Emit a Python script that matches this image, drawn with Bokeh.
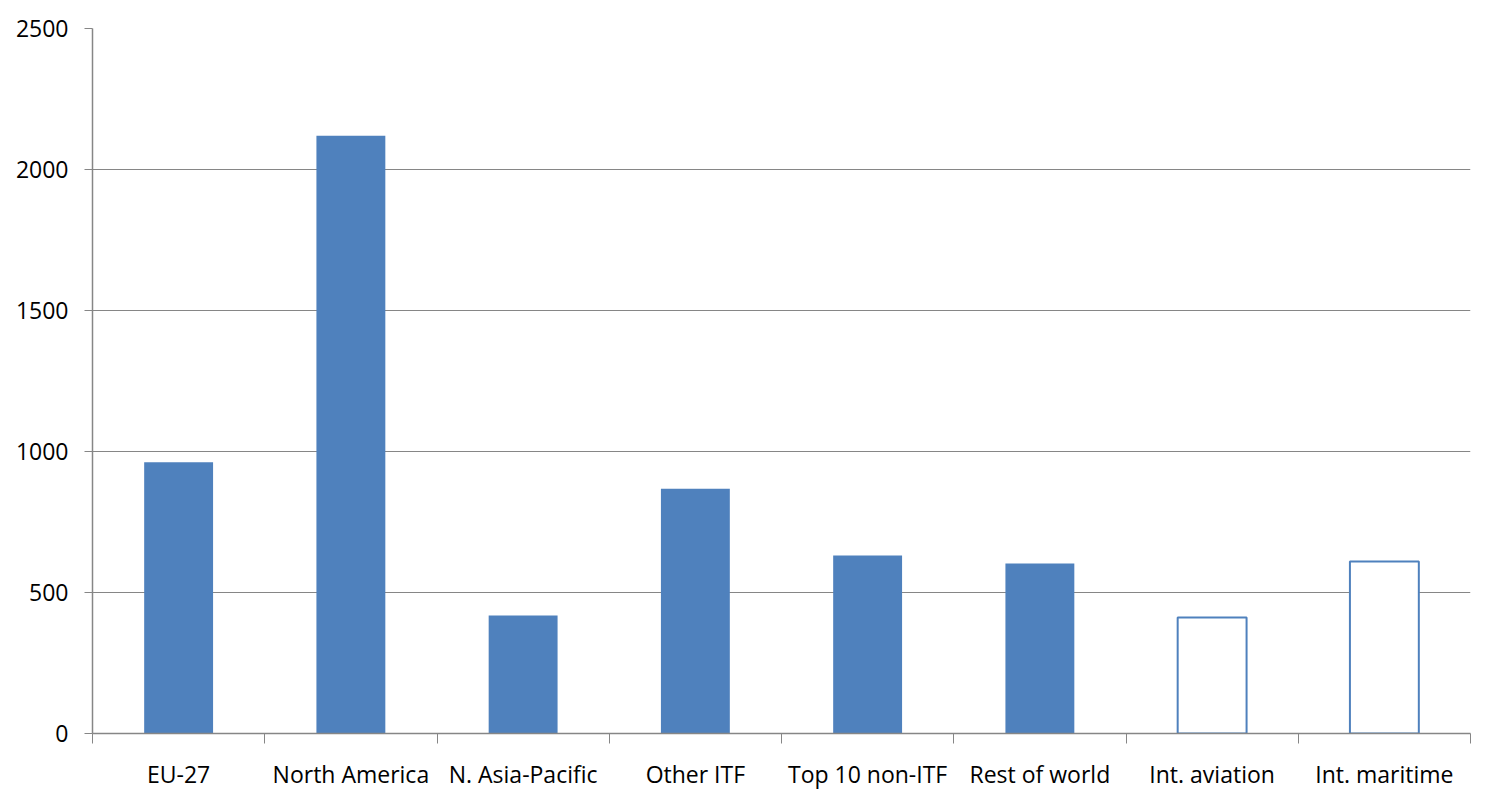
from bokeh.plotting import figure
from bokeh.models import FixedTicker, Range1d, ColumnDataSource
from bokeh.embed import file_html
from bokeh.resources import INLINE

categories = ["EU-27", "North America", "N. Asia-Pacific", "Other ITF",
              "Top 10 non-ITF", "Rest of world", "Int. aviation", "Int. maritime"]
values = [962, 2120, 418, 868, 631, 603, 411, 610]
hollow = [False, False, False, False, False, False, True, True]
y_ticks = [0, 500, 1000, 1500, 2000, 2500]

BLUE = "#4F81BD"
GRID = "#868686"
FONT = "Open Sans"

xs = [i + 0.5 for i in range(len(categories))]
fill = ["white" if h else BLUE for h in hollow]
line = [BLUE for h in hollow]
lw = [2 if h else 0 for h in hollow]

src = ColumnDataSource(dict(x=xs, top=values, fill=fill, line=line, lw=lw))

p = figure(width=1473, height=792, output_backend="svg", toolbar_location=None,
           x_range=Range1d(0, len(categories)), y_range=Range1d(0, 2500),
           min_border_left=92, min_border_right=3, min_border_top=28, min_border_bottom=56)
p.outline_line_color = None
p.background_fill_color = "white"

p.vbar(x="x", top="top", bottom=0, width=0.4, source=src,
       fill_color="fill", line_color="line", line_width="lw")

# x axis
xt = FixedTicker(ticks=xs, minor_ticks=list(range(len(categories) + 1)))
p.xaxis.ticker = xt
p.xaxis.major_label_overrides = {x: c for x, c in zip(xs, categories)}
p.xaxis.major_tick_line_color = None
p.xaxis.minor_tick_line_color = GRID
p.xaxis.minor_tick_out = 10
p.xaxis.minor_tick_in = 0
p.xaxis.axis_line_color = GRID
p.xaxis.axis_line_width = 1.5
p.xaxis.major_label_standoff = 14
p.xaxis.major_label_text_font = FONT
p.xaxis.major_label_text_font_size = "23px"
p.xaxis.major_label_text_color = "black"
p.xgrid.grid_line_color = None

# y axis
p.yaxis.ticker = FixedTicker(ticks=y_ticks)
p.yaxis.minor_tick_line_color = None
p.yaxis.major_tick_line_color = GRID
p.yaxis.major_tick_out = 8
p.yaxis.major_tick_in = 0
p.yaxis.axis_line_color = GRID
p.yaxis.axis_line_width = 1.5
p.yaxis.major_label_standoff = 16
p.yaxis.major_label_text_font = FONT
p.yaxis.major_label_text_font_size = "23px"
p.yaxis.major_label_text_color = "black"
p.ygrid.grid_line_color = GRID
p.ygrid.grid_line_width = 1.2
p.ygrid.level = "underlay"

open("out.html", "w").write(file_html(p, INLINE))
